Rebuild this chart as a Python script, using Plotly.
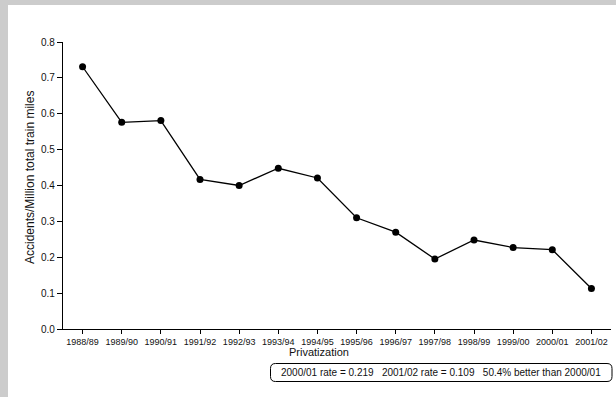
import plotly.graph_objects as go

periods = ["1988/89", "1989/90", "1990/91", "1991/92", "1992/93", "1993/94", "1994/95",
           "1995/96", "1996/97", "1997/98", "1998/99", "1999/00", "2000/01", "2001/02"]
rates = [0.731, 0.576, 0.581, 0.417, 0.400, 0.448, 0.421,
         0.310, 0.270, 0.195, 0.248, 0.227, 0.221, 0.113]
y_ticks = [0.0, 0.1, 0.2, 0.3, 0.4, 0.5, 0.6, 0.7, 0.8]
y_tick_text = ["0.0", "0.1", "0.2", "0.3", "0.4", "0.5", "0.6", "0.7", "0.8"]
summary = "2000/01 rate = 0.219\u00a0\u00a0\u00a02001/02 rate = 0.109\u00a0\u00a0\u00a050.4% better than 2000/01"

W, H = 616, 397
ML, MR, MT, MB = 63, 5, 42, 68
PW = W - ML - MR
PH = H - MT - MB


def fx(px):
    return (px - ML) / PW


def fy(py):
    return (H - MB - py) / PH


FONT = "Liberation Sans, Arial, Helvetica, sans-serif"

fig = go.Figure()
fig.add_trace(go.Scatter(
    x=periods, y=rates, mode="lines+markers",
    line=dict(color="black", width=1.3),
    marker=dict(color="black", size=7),
    showlegend=False, hoverinfo="skip",
))

# rounded summary box
x0, x1, y0, y1, r = 270.5, 612, 363.5, 381.5, 5
path = (
    f"M {fx(x0 + r)} {fy(y0)} L {fx(x1 - r)} {fy(y0)} "
    f"Q {fx(x1)} {fy(y0)} {fx(x1)} {fy(y0 + r)} L {fx(x1)} {fy(y1 - r)} "
    f"Q {fx(x1)} {fy(y1)} {fx(x1 - r)} {fy(y1)} L {fx(x0 + r)} {fy(y1)} "
    f"Q {fx(x0)} {fy(y1)} {fx(x0)} {fy(y1 - r)} L {fx(x0)} {fy(y0 + r)} "
    f"Q {fx(x0)} {fy(y0)} {fx(x0 + r)} {fy(y0)} Z"
)

fig.update_layout(
    width=W, height=H,
    margin=dict(l=ML, r=MR, t=MT, b=MB, pad=0),
    paper_bgcolor="#cccccc",
    plot_bgcolor="white",
    font=dict(family=FONT, color="#111111", size=10),
    shapes=[
        dict(type="rect", xref="paper", yref="paper", layer="below",
             x0=fx(8), x1=fx(W + 5), y0=fy(H + 5), y1=fy(5),
             fillcolor="white", line=dict(width=0)),
        dict(type="path", xref="paper", yref="paper", path=path,
             line=dict(color="black", width=1), fillcolor="rgba(0,0,0,0)"),
    ],
    annotations=[
        dict(text="Accidents/Million total train miles", textangle=-90,
             xref="paper", yref="paper", x=fx(30), y=fy(178),
             showarrow=False, font=dict(size=12, family=FONT, color="#111111"),
             xanchor="center", yanchor="middle"),
        dict(text="Privatization",
             xref="paper", yref="paper", x=fx((63 + 611) / 2 - 18), y=fy(352),
             showarrow=False, font=dict(size=11, family=FONT, color="#111111"),
             xanchor="center", yanchor="middle"),
        dict(text=summary,
             xref="paper", yref="paper", x=fx((x0 + x1) / 2), y=fy((y0 + y1) / 2),
             showarrow=False, font=dict(size=10, family=FONT, color="#111111"),
             xanchor="center", yanchor="middle"),
    ],
)

fig.update_xaxes(
    type="category", range=[-0.5, len(periods) - 0.5],
    tickmode="array", tickvals=periods, ticktext=periods,
    showline=True, linecolor="black", linewidth=1.3,
    ticks="outside", ticklen=4, tickwidth=1, tickcolor="black",
    tickfont=dict(size=9, family=FONT, color="#111111"),
    showgrid=False, zeroline=False, fixedrange=True,
)
fig.update_yaxes(
    range=[0, 0.8],
    tickmode="array", tickvals=y_ticks, ticktext=y_tick_text,
    showline=True, linecolor="black", linewidth=1.3,
    ticks="outside", ticklen=5, tickwidth=1, tickcolor="black",
    tickfont=dict(size=10, family=FONT, color="#111111"),
    showgrid=False, zeroline=False, fixedrange=True,
)

page_fix = (
    "document.documentElement.style.margin='0';"
    "document.documentElement.style.overflow='hidden';"
    "document.body.style.margin='0';"
    "document.body.style.overflow='hidden';"
    "document.body.style.background='#cccccc';"
)

fig.write_html("out.html", config={"displayModeBar": False}, post_script=page_fix)
